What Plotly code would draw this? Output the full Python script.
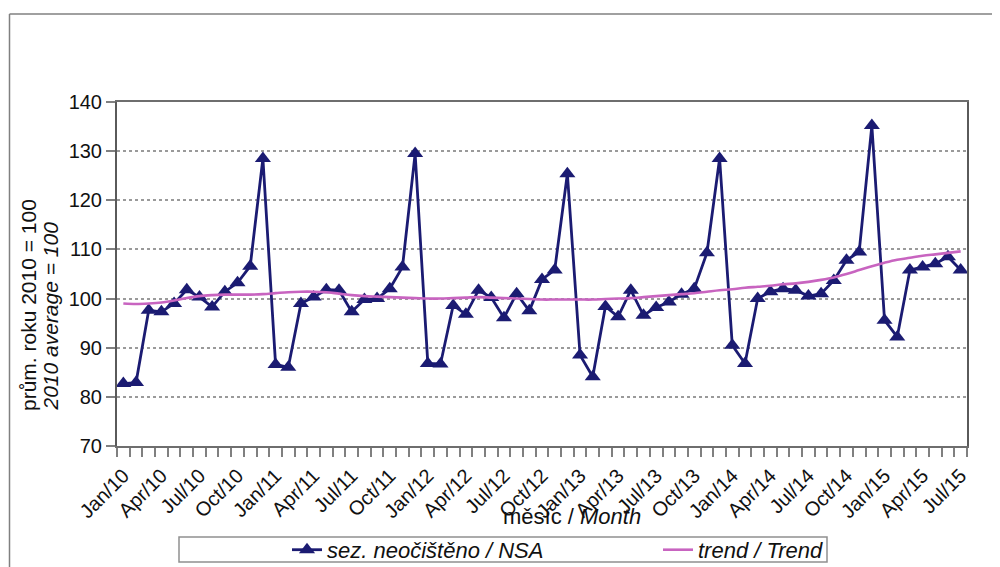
import plotly.graph_objects as go

MON = ["Jan", "Feb", "Mar", "Apr", "May", "Jun", "Jul", "Aug", "Sep", "Oct", "Nov", "Dec"]
months = [f"{m}/{y}" for y in range(10, 16) for m in MON][:67]

tick_labels = ["Jan/10", "Apr/10", "Jul/10", "Oct/10", "Jan/11", "Apr/11", "Jul/11", "Oct/11",
               "Jan/12", "Apr/12", "Jul/12", "Oct/12", "Jan/13", "Apr/13", "Jul/13", "Oct/13",
               "Jan/14", "Apr/14", "Jul/14", "Oct/14", "Jan/15", "Apr/15", "Jul/15"]

nsa = [82.7, 82.9, 97.6, 97.3, 99.0, 101.8, 100.3, 98.3, 101.4, 103.2, 106.6, 128.5,
       86.6, 86.0, 99.0, 100.3, 101.8, 101.7, 97.3, 99.8, 100.0, 102.0, 106.4, 129.5,
       86.8, 86.7, 98.6, 96.8, 101.7, 100.2, 96.1, 101.0, 97.5, 103.9, 105.8, 125.4,
       88.5, 84.1, 98.4, 96.3, 101.7, 96.6, 98.2, 99.3, 100.9, 102.0, 109.3, 128.5,
       90.5, 86.8, 100.0, 101.4, 102.0, 101.7, 100.5, 101.0, 103.7, 107.8, 109.5, 135.2,
       95.6, 92.2, 105.8, 106.4, 107.1, 108.5, 105.8]

trend = [99.0, 98.9, 99.0, 99.2, 99.6, 100.1, 100.5, 100.7, 100.8, 100.8, 100.8, 100.9,
         101.1, 101.3, 101.4, 101.4, 101.3, 101.0, 100.7, 100.5, 100.4, 100.3, 100.2, 100.1,
         100.0, 100.0, 100.1, 100.2, 100.3, 100.2, 100.1, 100.0, 99.9, 99.8, 99.8, 99.8,
         99.8, 99.8, 99.9, 100.0, 100.1, 100.3, 100.5, 100.7, 100.9, 101.1, 101.4, 101.7,
         101.9, 102.2, 102.4, 102.6, 102.9, 103.1, 103.4, 103.8, 104.3, 105.0, 105.8, 106.6,
         107.3, 107.9, 108.3, 108.7, 109.0, 109.3, 109.6]

NAVY = "#1b1b72"
PINK = "#c864c0"
FONT = "Liberation Sans, Arial, sans-serif"

# the page body has an 8px margin: the figure starts at (8, 8) in the window
OFF = 8
W, H = 1000 - OFF, 580
# plot area in window pixels
L, R, T, B = 117, 967, 101.7, 446


def px(x):
    return (x - L) / (R - L)


def py(y):
    return (B - y) / (B - T)


fig = go.Figure()
fig.add_trace(go.Scatter(
    x=months, y=nsa, mode="lines+markers", name="<i>sez. neočištěno / NSA</i>",
    line=dict(color=NAVY, width=2.8),
    marker=dict(symbol="triangle-up", size=14, color=NAVY),
    legendwidth=326,
))
fig.add_trace(go.Scatter(
    x=months, y=trend, mode="lines", name="<i>trend / Trend</i>",
    line=dict(color=PINK, width=2.6, shape="spline"),
))

ticktext = [m if m in tick_labels else "" for m in months]

fig.update_layout(
    width=W, height=H,
    margin=dict(l=L - OFF, r=1000 - R, t=T - OFF, b=H - (B - OFF), pad=0),
    paper_bgcolor="white", plot_bgcolor="white",
    font=dict(family=FONT, size=20, color="#111"),
    showlegend=True,
    legend=dict(orientation="h", x=px(287), xanchor="left", y=py(550), yanchor="middle",
                font=dict(size=22, family=FONT, color="#111"),
                bgcolor="rgba(0,0,0,0)", borderwidth=0,
                itemwidth=30, traceorder="normal"),
    xaxis=dict(
        type="category", tickmode="array", tickvals=months, ticktext=ticktext,
        tickangle=-45, tickson="boundaries", ticks="outside", ticklen=9,
        tickcolor="#808080", tickwidth=1.5, showgrid=False, automargin=False,
        ticklabelstandoff=8,
        showline=True, linecolor="#6e6e6e", linewidth=2, mirror=True,
        range=[-0.5, 66.5], tickfont=dict(size=20, family=FONT, color="#111"),
    ),
    yaxis=dict(
        range=[70, 140], dtick=10, tick0=70, ticks="outside", ticklen=9,
        tickcolor="#808080", tickwidth=1.5, automargin=False,
        showgrid=True, gridcolor="#9a9a9a", gridwidth=1.5, griddash="dot",
        showline=True, linecolor="#5a5a5a", linewidth=2, mirror=True,
        tickfont=dict(size=20, family=FONT, color="#111"), zeroline=False,
    ),
    shapes=[
        # outer frame
        dict(type="line", xref="paper", yref="paper", x0=px(9.5), x1=px(9.5),
             y0=py(13.5), y1=py(580), line=dict(color="#808080", width=1.5)),
        dict(type="line", xref="paper", yref="paper", x0=px(9.5), x1=px(1003),
             y0=py(13.5), y1=py(13.5), line=dict(color="#808080", width=1.5)),
        # legend box
        dict(type="rect", xref="paper", yref="paper", x0=px(179), x1=px(827),
             y0=py(562), y1=py(537), line=dict(color="#909090", width=1.5)),
    ],
    annotations=[
        dict(text="prům. roku 2010 = 100", xref="paper", yref="paper",
             x=px(28), y=py(413), xanchor="center", yanchor="bottom", textangle=-90,
             showarrow=False, font=dict(size=21, family=FONT, color="#111")),
        dict(text="<i>2010 average = 100</i>", xref="paper", yref="paper",
             x=px(51), y=py(413), xanchor="center", yanchor="bottom", textangle=-90,
             showarrow=False, font=dict(size=21, family=FONT, color="#111")),
        dict(text="měsíc / <i>Month</i>", xref="paper", yref="paper",
             x=px(572), y=py(517), xanchor="center", yanchor="middle",
             showarrow=False, font=dict(size=22, family=FONT, color="#111")),
    ],
)

fig.write_html("out.html")
